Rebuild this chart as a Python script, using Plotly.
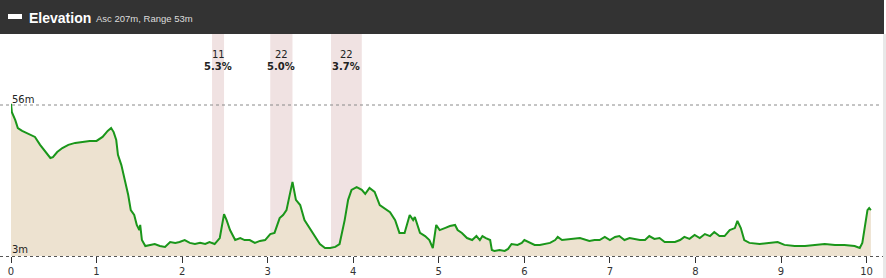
import plotly.graph_objects as go

# distance (km) and elevation (m)
dist_km = [0.00, 0.01, 0.05, 0.08, 0.13, 0.20, 0.28, 0.34, 0.40, 0.46, 0.49, 0.54, 0.60, 0.67, 0.75,
           0.83, 0.92, 1.00, 1.07, 1.13, 1.17, 1.20, 1.23, 1.25, 1.29, 1.33, 1.37, 1.40, 1.44, 1.47,
           1.50, 1.51, 1.53, 1.57, 1.62, 1.68, 1.74, 1.80, 1.86, 1.92, 1.97, 2.03, 2.09, 2.15, 2.21,
           2.27, 2.32, 2.38, 2.44, 2.49, 2.52, 2.56, 2.62, 2.68, 2.73, 2.79, 2.85, 2.91, 2.97, 3.03,
           3.08, 3.14, 3.18, 3.22, 3.26, 3.29, 3.33, 3.38, 3.43, 3.49, 3.55, 3.61, 3.67, 3.73, 3.79,
           3.84, 3.90, 3.94, 3.98, 4.04, 4.10, 4.14, 4.19, 4.25, 4.31, 4.37, 4.43, 4.49, 4.54, 4.60,
           4.66, 4.70, 4.72, 4.78, 4.84, 4.89, 4.93, 4.97, 5.01, 5.07, 5.13, 5.19, 5.22, 5.27, 5.33,
           5.39, 5.44, 5.48, 5.51, 5.55, 5.60, 5.62, 5.65, 5.71, 5.77, 5.81, 5.85, 5.92, 5.97, 6.00,
           6.06, 6.12, 6.18, 6.24, 6.30, 6.36, 6.39, 6.44, 6.53, 6.65, 6.76, 6.82, 6.88, 6.94, 7.00,
           7.06, 7.11, 7.17, 7.23, 7.29, 7.35, 7.41, 7.46, 7.52, 7.58, 7.64, 7.70, 7.76, 7.82, 7.87,
           7.93, 7.99, 8.05, 8.11, 8.17, 8.22, 8.28, 8.34, 8.40, 8.46, 8.49, 8.53, 8.57, 8.63, 8.75,
           8.87, 8.96, 9.04, 9.16, 9.28, 9.39, 9.51, 9.63, 9.74, 9.86, 9.92, 9.95, 9.99, 10.01, 10.03,
           10.05]
elev_m = [56.4, 53.5, 50.7, 47.9, 46.9, 45.8, 44.8, 42.0, 39.5, 37.4, 37.7, 39.5, 40.9, 42.0, 42.7,
          43.0, 43.4, 43.4, 44.8, 46.9, 47.9, 46.5, 43.7, 38.5, 34.9, 29.7, 24.4, 19.1, 17.4, 13.9,
          12.1, 13.9, 8.6, 6.5, 6.9, 7.2, 6.5, 6.2, 7.9, 7.6, 7.9, 8.6, 7.6, 7.2, 7.6,
          7.2, 7.9, 7.2, 9.3, 17.7, 15.6, 12.1, 8.6, 9.3, 8.6, 8.6, 7.6, 8.3, 8.6, 10.7,
          11.1, 16.3, 17.4, 19.1, 24.8, 29.0, 22.7, 20.9, 15.6, 12.8, 10.0, 7.2, 5.8, 5.8, 6.2,
          7.2, 15.6, 22.7, 26.2, 27.2, 26.2, 24.8, 26.9, 25.5, 20.9, 19.8, 18.4, 15.6, 11.1, 11.1,
          17.4, 15.6, 16.7, 11.1, 10.0, 8.6, 5.8, 13.9, 12.1, 12.8, 13.5, 13.9, 12.1, 11.1, 9.3,
          8.6, 10.0, 8.6, 10.0, 9.3, 8.6, 5.1, 4.8, 5.1, 4.8, 5.5, 7.2, 6.9, 7.6, 8.6,
          7.6, 6.9, 6.9, 7.2, 7.6, 8.6, 9.7, 8.6, 9.0, 9.3, 8.3, 8.6, 8.6, 9.7, 8.6,
          9.7, 10.0, 8.6, 9.3, 9.0, 8.6, 8.6, 10.0, 9.0, 9.3, 7.9, 7.9, 7.9, 8.6, 9.7,
          9.0, 10.4, 9.3, 10.7, 10.0, 11.4, 10.0, 10.0, 12.1, 12.8, 15.3, 12.8, 8.6, 7.6, 7.2,
          7.6, 7.9, 6.9, 6.5, 6.5, 6.9, 7.2, 6.9, 6.9, 6.5, 5.8, 7.6, 15.6, 19.1, 19.8,
          19.1]

# climbs
climb_start = [2.35, 3.03, 3.74]
climb_end = [2.49, 3.29, 4.10]
climb_cat = ["11", "22", "22"]
climb_grade = ["5.3%", "5.0%", "3.7%"]

x_ticks = list(range(0, 11))
elev_max, elev_min = 56, 3
title_text = "Elevation"
subtitle_text = "Asc 207m, Range 53m"

W, H = 886, 278
ML, MR, MT, MB = 11, 3, 34, 22
PW = W - ML - MR
PH = H - MT - MB
KM_PX = 85.56  # pixels per km on the reference

def px_x(p):
    return (p - ML) / PW

def px_y(p):
    return (H - MB - p) / PH

FONT = "DejaVu Sans"
HFONT = "Liberation Sans"

fig = go.Figure()
fig.add_trace(go.Scatter(
    x=dist_km, y=elev_m, mode="lines",
    line=dict(color="#1a961a", width=2),
    fill="tozeroy", fillcolor="#ede2d0",
    hoverinfo="skip", showlegend=False,
))

shapes = []
annotations = []
for s, e, c, g in zip(climb_start, climb_end, climb_cat, climb_grade):
    shapes.append(dict(type="rect", xref="x", yref="paper", x0=s, x1=e, y0=0, y1=1,
                       fillcolor="#f0e2e2", line=dict(width=0), layer="below"))
    annotations.append(dict(x=(s + e) / 2, y=px_y(47), xref="x", yref="paper", text=c,
                            showarrow=False, font=dict(size=10, color="#222", family=FONT)))
    annotations.append(dict(x=(s + e) / 2, y=px_y(59), xref="x", yref="paper", text="<b>" + g + "</b>",
                            showarrow=False, font=dict(size=10, color="#222", family=FONT)))

# max line
shapes.append(dict(type="line", xref="paper", yref="y", x0=px_x(0), x1=px_x(882), y0=elev_max, y1=elev_max,
                   line=dict(color="#8a8a8a", width=1, dash="dot")))
# baseline
shapes.append(dict(type="line", xref="paper", yref="paper", x0=px_x(0), x1=px_x(884), y0=px_y(256.5), y1=px_y(256.5),
                   line=dict(color="#555", width=1, dash="dot")))
# header bar
shapes.append(dict(type="rect", xref="paper", yref="paper", x0=px_x(0), x1=px_x(884), y0=px_y(34), y1=px_y(0),
                   fillcolor="#333333", line=dict(width=0), layer="above"))
shapes.append(dict(type="rect", xref="paper", yref="paper", x0=px_x(8), x1=px_x(22), y0=px_y(19), y1=px_y(14),
                   fillcolor="#ffffff", line=dict(width=0), layer="above"))
# right edge strip
shapes.append(dict(type="rect", xref="paper", yref="paper", x0=px_x(883), x1=px_x(886), y0=px_y(278), y1=px_y(34),
                   fillcolor="#e8e8e8", line=dict(width=0), layer="above"))

annotations.append(dict(x=px_x(27), y=px_y(18), xref="paper", yref="paper", xanchor="left", yanchor="middle",
                        text="<b>" + title_text + "</b>", showarrow=False,
                        font=dict(size=14, color="#ffffff", family=HFONT)))
annotations.append(dict(x=px_x(94), y=px_y(18), xref="paper", yref="paper", xanchor="left", yanchor="middle",
                        text=subtitle_text, showarrow=False,
                        font=dict(size=9.5, color="#dddddd", family=HFONT)))
annotations.append(dict(x=px_x(10), y=px_y(99), xref="paper", yref="paper", xanchor="left", yanchor="middle",
                        text=f"{elev_max}m", showarrow=False, font=dict(size=10, color="#222", family=FONT)))
annotations.append(dict(x=px_x(10), y=px_y(249), xref="paper", yref="paper", xanchor="left", yanchor="middle",
                        text=f"{elev_min}m", showarrow=False, font=dict(size=10, color="#222", family=FONT)))

y_top = elev_min + (elev_max - elev_min) * (256 - MT) / (256 - 105)
x_right = PW / KM_PX

fig.update_layout(
    width=W, height=H,
    margin=dict(l=ML, r=MR, t=MT, b=MB, pad=0, autoexpand=False),
    paper_bgcolor="#ffffff", plot_bgcolor="#ffffff",
    shapes=shapes, annotations=annotations,
    xaxis=dict(range=[0, x_right], tickvals=x_ticks, ticktext=[str(v) for v in x_ticks],
               showgrid=False, zeroline=False, showline=False, automargin=False,
               ticks="outside", ticklen=6, tickcolor="#333", tickwidth=1,
               tickfont=dict(size=10, color="#333", family=FONT)),
    yaxis=dict(range=[elev_min, y_top], showgrid=False, zeroline=False, showline=False,
               showticklabels=False, ticks="", automargin=False),
    showlegend=False,
)

fig.write_html("out.html")
